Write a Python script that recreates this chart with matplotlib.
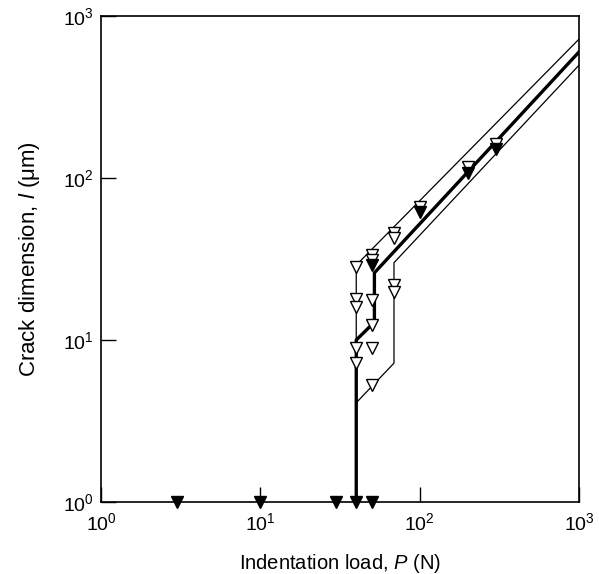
import matplotlib
matplotlib.use("Agg")
import matplotlib.pyplot as plt

plt.rcParams['font.family'] = ['Liberation Sans', 'DejaVu Sans']
plt.rcParams['mathtext.fontset'] = 'custom'
plt.rcParams['mathtext.rm'] = 'Liberation Sans'
plt.rcParams['mathtext.it'] = 'Liberation Sans:italic'

# open triangles: cracked indents (load N, crack dimension um)
open_P = [40, 40, 40, 40, 40,
          50, 50, 50, 50, 50, 50,
          69, 69, 69, 69,
          100, 200, 300]
open_l = [28.3, 17.9, 16.0, 8.9, 7.2,
          33.5, 31.0, 17.7, 12.4, 8.9, 5.3,
          46, 42.5, 21.8, 19.8,
          66, 117, 163]

# dark (filled) triangles on the upper branch
fill_P = [50, 100, 200, 300]
fill_l = [29.0, 62, 107, 152]

# filled triangles on the axis: no cracks
none_P = [3, 10, 30, 40, 50]
none_l = [1, 1, 1, 1, 1]

# bounding / mean curves
main_P = [40, 40, 52, 52, 1000]
main_l = [1, 10, 12.9, 26, 600]
upper_P = [40, 40, 1000]
upper_l = [10, 29, 720]
lower_P = [40, 69, 69, 1000]
lower_l = [4.1, 7.2, 30, 497]

fig = plt.figure(figsize=(5.99, 5.74), dpi=100)
ax = fig.add_axes([0.1686, 0.1254, 0.798, 0.8467])

ax.plot(main_P, main_l, color='black', lw=2.4, solid_joinstyle='miter', zorder=3)
ax.plot(upper_P, upper_l, color='black', lw=0.9, zorder=3)
ax.plot(lower_P, lower_l, color='black', lw=0.9, zorder=3)

ax.plot(open_P, open_l, linestyle='none', marker='v', ms=9, mfc='white',
        mec='black', mew=1.0, zorder=4)
ax.plot(fill_P, fill_l, linestyle='none', marker='v', ms=9, mfc='black',
        mec='black', mew=1.0, zorder=5)
ax.plot(none_P, none_l, linestyle='none', marker='v', ms=8, mfc='black',
        mec='black', mew=1.0, zorder=5, clip_on=False)

ax.set_xscale('log')
ax.set_yscale('log')
ax.set_xlim(1, 1000)
ax.set_ylim(1, 1000)
ax.minorticks_off()
ax.tick_params(axis='both', which='major', direction='in', length=10.5,
               width=1.0, labelsize=14, top=False, right=False)
ax.tick_params(axis='x', pad=7)
ax.tick_params(axis='y', pad=5)
for s in ax.spines.values():
    s.set_linewidth(1.2)

ax.set_xlabel(r'Indentation load, $\mathit{P}$ (N)', fontsize=14.5, labelpad=13)
ax.set_ylabel('Crack dimension, $\\mathit{l}$ (\u03bcm)', fontsize=16, labelpad=15)

fig.savefig('out.png', dpi=100)
